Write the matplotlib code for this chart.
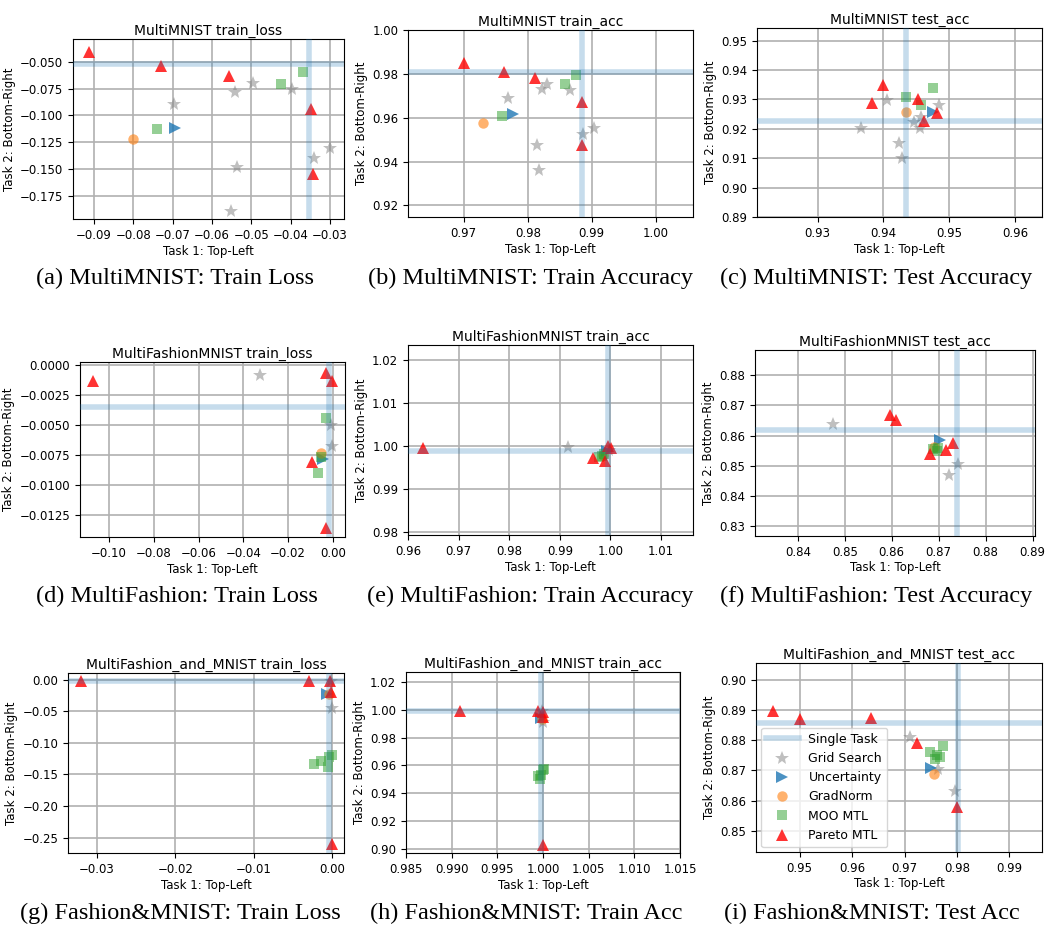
import numpy as np
import matplotlib
matplotlib.use("Agg")
import matplotlib.pyplot as plt

# ---- (a) MultiMNIST train_loss
a_single = (-0.0354, -0.0519)
a_grid = [(-0.0697, -0.0897), (-0.0540, -0.0785), (-0.0496, -0.0699), (-0.0395, -0.0757),
          (-0.0535, -0.1477), (-0.0340, -0.1393), (-0.0299, -0.1303), (-0.0551, -0.1890)]
a_unc = [(-0.0694, -0.1120)]
a_grad = [(-0.0800, -0.1220)]
a_moo = [(-0.0740, -0.1130), (-0.0425, -0.0711), (-0.0368, -0.0599)]
a_pareto = [(-0.0913, -0.0410), (-0.0728, -0.0537), (-0.0556, -0.0633), (-0.0347, -0.0940),
            (-0.0344, -0.1542)]

# ---- (b) MultiMNIST train_acc
b_single = (0.9884, 0.9811)
b_grid = [(0.9769, 0.9690), (0.9822, 0.9733), (0.9830, 0.9757), (0.9866, 0.9727),
          (0.9815, 0.9478), (0.9818, 0.9364), (0.9886, 0.9528), (0.9903, 0.9554)]
b_unc = [(0.9777, 0.9619)]
b_grad = [(0.9730, 0.9576)]
b_moo = [(0.9760, 0.9610), (0.9858, 0.9754), (0.9875, 0.9795)]
b_pareto = [(0.9700, 0.9853), (0.9763, 0.9809), (0.9811, 0.9782), (0.9885, 0.9675), (0.9885, 0.9475)]

# ---- (c) MultiMNIST test_acc
c_single = (0.9434, 0.9226)
c_grid = [(0.9406, 0.9299), (0.9366, 0.9202), (0.9423, 0.9151), (0.9428, 0.9102),
          (0.9447, 0.9223), (0.9455, 0.9204), (0.9457, 0.9240), (0.9484, 0.9280)]
c_unc = [(0.9476, 0.9257)]
c_grad = [(0.9435, 0.9257)]
c_moo = [(0.9434, 0.9307), (0.9457, 0.9280), (0.9475, 0.9339)]
c_pareto = [(0.9399, 0.9350), (0.9382, 0.9289), (0.9452, 0.9302), (0.9462, 0.9225), (0.9481, 0.9255)]

# ---- (d) MultiFashionMNIST train_loss
d_single = (-0.0015, -0.00356)
d_grid = [(-0.0323, -0.00088), (-0.0007, -0.00502), (-0.0003, -0.00679)]
d_unc = [(-0.0042, -0.00784)]
d_grad = [(-0.0051, -0.00737)]
d_moo = [(-0.0031, -0.00441), (-0.0054, -0.00770), (-0.0066, -0.00897)]
d_pareto = [(-0.1070, -0.00135), (-0.0030, -0.00066), (-0.0001, -0.00135), (-0.0094, -0.00806),
            (-0.0030, -0.01358)]

# ---- (e) MultiFashionMNIST train_acc
e_single = (0.9995, 0.99883)
e_grid = [(0.99162, 0.99977), (0.99980, 0.99900)]
e_unc = [(0.99927, 0.99883)]
e_grad = [(0.99850, 0.99780)]
e_moo = [(0.99780, 0.99730), (0.99830, 0.99760), (0.99880, 0.99810)]
e_pareto = [(0.96300, 0.99938), (0.99960, 0.99990), (1.00010, 0.99940), (0.99664, 0.99720),
            (0.99894, 0.99643)]

# ---- (f) MultiFashionMNIST test_acc
f_single = (0.8740, 0.8618)
f_grid = [(0.8475, 0.8638), (0.8741, 0.8507), (0.8723, 0.8471)]
f_unc = [(0.8702, 0.8587)]
f_grad = [(0.8689, 0.8562)]
f_moo = [(0.8687, 0.8555), (0.8696, 0.8549), (0.8698, 0.8560)]
f_pareto = [(0.8597, 0.8667), (0.8610, 0.8651), (0.8682, 0.8538), (0.8716, 0.8551), (0.8730, 0.8576)]

# ---- (g) MultiFashion_and_MNIST train_loss
g_single = (-0.00047, -0.0016)
g_grid = [(-0.0001, -0.0020), (0.0000, -0.0441)]
g_unc = [(-0.00065, -0.0221)]
g_grad = [(-0.0004, -0.0221)]
g_moo = [(-0.0023, -0.1334), (-0.0014, -0.1282), (-0.00055, -0.1387), (-0.00004, -0.1192),
         (-0.0004, -0.1218)]
g_pareto = [(-0.0321, -0.0026), (-0.0029, -0.0026), (-0.00034, -0.0026), (-0.0001, -0.0194),
            (0.0000, -0.2595)]

# ---- (h) MultiFashion_and_MNIST train_acc
h_single = (0.99978, 0.9995)
h_grid = [(1.0000, 0.9916), (0.9999, 0.9995)]
h_unc = [(0.9998, 0.9940)]
h_grad = [(0.9999, 0.9935)]
h_moo = [(0.99942, 0.9521), (0.99967, 0.9502), (0.99996, 0.9564), (1.00015, 0.9574), (0.9998, 0.9533)]
h_pareto = [(0.99095, 0.9995), (0.99942, 0.9995), (0.99996, 0.9988), (1.0000, 0.9947), (1.0000, 0.9030)]

# ---- (i) MultiFashion_and_MNIST test_acc
i_single = (0.9802, 0.8858)
i_grid = [(0.9710, 0.8811), (0.9763, 0.8706), (0.9797, 0.8632)]
i_unc = [(0.9750, 0.8708)]
i_grad = [(0.9757, 0.8687)]
i_moo = [(0.9749, 0.8761), (0.9762, 0.8750), (0.9768, 0.8745), (0.9774, 0.8780), (0.9758, 0.8739)]
i_pareto = [(0.9449, 0.8897), (0.9501, 0.8871), (0.9636, 0.8874), (0.9723, 0.8791), (0.9800, 0.8579)]

titles = ["MultiMNIST train_loss", "MultiMNIST train_acc", "MultiMNIST test_acc",
          "MultiFashionMNIST train_loss", "MultiFashionMNIST train_acc", "MultiFashionMNIST test_acc",
          "MultiFashion_and_MNIST train_loss", "MultiFashion_and_MNIST train_acc",
          "MultiFashion_and_MNIST test_acc"]
captions = ["(a) MultiMNIST: Train Loss", "(b) MultiMNIST: Train Accuracy", "(c) MultiMNIST: Test Accuracy",
            "(d) MultiFashion: Train Loss", "(e) MultiFashion: Train Accuracy", "(f) MultiFashion: Test Accuracy",
            "(g) Fashion&MNIST: Train Loss", "(h) Fashion&MNIST: Train Acc", "(i) Fashion&MNIST: Test Acc"]

xticks = [np.arange(-0.09, -0.029, 0.01), [0.97, 0.98, 0.99, 1.00], [0.93, 0.94, 0.95, 0.96],
          np.arange(-0.10, 0.001, 0.02), np.arange(0.96, 1.011, 0.01), np.arange(0.84, 0.891, 0.01),
          [-0.03, -0.02, -0.01, 0.00], np.arange(0.985, 1.0151, 0.005), np.arange(0.95, 0.991, 0.01)]
yticks = [[-0.050, -0.075, -0.100, -0.125, -0.150, -0.175], [0.92, 0.94, 0.96, 0.98, 1.00],
          np.arange(0.89, 0.951, 0.01), [0.0, -0.0025, -0.005, -0.0075, -0.01, -0.0125],
          [0.98, 0.99, 1.00, 1.01, 1.02], np.arange(0.83, 0.881, 0.01),
          [0.0, -0.05, -0.10, -0.15, -0.20, -0.25], np.arange(0.90, 1.021, 0.02),
          np.arange(0.85, 0.901, 0.01)]
xlims = [(-0.0953, -0.0264), (0.9613, 1.0058), (0.9208, 0.9641), (-0.1130, 0.0055), (0.96, 1.0163),
         (0.8309, 0.8905), (-0.0337, 0.0015), (0.985, 1.015), (0.9417, 0.9962)]
ylims = [(-0.1964, -0.0289), (0.9147, 1.0002), (0.89, 0.9543), (-0.01432, 0.00022), (0.9792, 1.0235),
         (0.8268, 0.8883), (-0.2742, 0.0105), (0.8969, 1.0274), (0.8430, 0.9055)]

# axes boxes in pixels: left, top, right, bottom
boxes = [(73, 39, 344, 219), (408, 30, 693, 217), (757, 28, 1042, 217),
         (80, 362, 345, 537), (408, 345, 693, 535), (755, 350, 1035, 536),
         (68, 673, 344, 853), (406, 672, 680, 853), (756, 663, 1042, 852)]
cap_pos = [(175, 278), (530, 278), (876, 278), (177, 596), (530, 596), (876, 596),
           (180, 913), (526, 913), (872, 913)]

singles = [a_single, b_single, c_single, d_single, e_single, f_single, g_single, h_single, i_single]
grids = [a_grid, b_grid, c_grid, d_grid, e_grid, f_grid, g_grid, h_grid, i_grid]
uncs = [a_unc, b_unc, c_unc, d_unc, e_unc, f_unc, g_unc, h_unc, i_unc]
grads = [a_grad, b_grad, c_grad, d_grad, e_grad, f_grad, g_grad, h_grad, i_grad]
moos = [a_moo, b_moo, c_moo, d_moo, e_moo, f_moo, g_moo, h_moo, i_moo]
paretos = [a_pareto, b_pareto, c_pareto, d_pareto, e_pareto, f_pareto, g_pareto, h_pareto, i_pareto]

W, H = 1045, 925
fig = plt.figure(figsize=(W / 100, H / 100), dpi=100)

for k in range(9):
    l, t, r, b = boxes[k]
    ax = fig.add_axes([l / W, 1 - b / H, (r - l) / W, (b - t) / H])
    ax.grid(True, color='#b0b0b0', linewidth=1.2)

    pts = np.array(grids[k])
    ax.plot(pts[:, 0], pts[:, 1], ls='none', marker='*', ms=10, color='grey', alpha=0.5,
            label='Grid Search', markeredgewidth=0)
    pts = np.array(uncs[k])
    ax.plot(pts[:, 0], pts[:, 1], ls='none', marker='>', ms=8.5, color='tab:blue', alpha=0.8,
            label='Uncertainty', markeredgewidth=0)
    pts = np.array(grads[k])
    ax.plot(pts[:, 0], pts[:, 1], ls='none', marker='o', ms=7.5, color='tab:orange', alpha=0.6,
            label='GradNorm', markeredgewidth=0)
    pts = np.array(moos[k])
    ax.plot(pts[:, 0], pts[:, 1], ls='none', marker='s', ms=7.5, color='tab:green', alpha=0.5,
            label='MOO MTL', markeredgewidth=0)
    pts = np.array(paretos[k])
    ax.plot(pts[:, 0], pts[:, 1], ls='none', marker='^', ms=9, color='red', alpha=0.8,
            label='Pareto MTL', markeredgewidth=0)

    sx, sy = singles[k]
    ax.axvline(sx, color='tab:blue', alpha=0.25, linewidth=4, zorder=3)
    ax.axhline(sy, color='tab:blue', alpha=0.25, linewidth=4, zorder=3, label='Single Task')

    ax.set_xticks(xticks[k])
    ax.set_yticks(yticks[k])
    ax.set_xlim(xlims[k])
    ax.set_ylim(ylims[k])
    ax.ticklabel_format(useOffset=False)
    ax.tick_params(labelsize=8.5)
    ax.set_title(titles[k], fontsize=10, pad=3)
    ax.set_xlabel('Task 1: Top-Left', fontsize=8.5, labelpad=2)
    ax.set_ylabel('Task 2: Bottom-Right', fontsize=8.5, labelpad=3)

    if k == 8:
        hs, ls_ = ax.get_legend_handles_labels()
        order = [5, 0, 1, 2, 3, 4]
        ax.legend([hs[j] for j in order], [ls_[j] for j in order], loc='lower left', fontsize=9,
                  framealpha=0.8, handlelength=2.6, borderaxespad=0.4)

    cx, cy = cap_pos[k]
    fig.text(cx / W, 1 - cy / H, captions[k], ha='center', va='center',
             family='Liberation Serif', fontsize=17.5)

fig.savefig('out.png', dpi=100)
